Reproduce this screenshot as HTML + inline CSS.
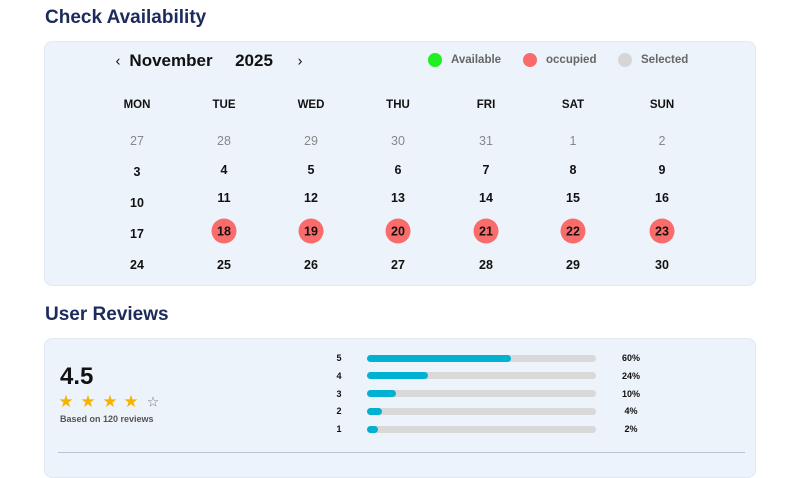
<!DOCTYPE html>
<html><head><meta charset="utf-8">
<style>
*{margin:0;padding:0;box-sizing:border-box}
body{width:800px;height:460px;overflow:hidden;background:#fff;font-family:"Liberation Sans",sans-serif;position:relative}
.abs{position:absolute}
.h{font-size:19px;font-weight:bold;color:#1c2b5c}
.card{position:absolute;background:#edf3fa;border:1px solid #e2e9f2;border-radius:8px}
.c{position:absolute;transform:translate(-50%,-50%);font-size:12.5px;font-weight:bold;color:#111;white-space:nowrap}
.g{color:#888;font-weight:normal}
.occ{width:25px;height:25px;border-radius:50%;background:#fa6b6b;display:flex;align-items:center;justify-content:center}
.dot{position:absolute;width:14px;height:14px;border-radius:50%;transform:translate(-50%,-50%)}
.lg{position:absolute;transform:translateY(-50%);font-size:11.5px;color:#666;font-weight:bold}
.star{position:absolute;font-size:17px;color:#f5b400;transform:translate(-50%,-50%)}
</style></head><body>
<div class="abs h" style="left:45px;top:7px">Check Availability</div>
<div class="card" style="left:44px;top:41px;width:712px;height:245px"></div>
<div class="c" style="left:118px;top:61px;font-weight:normal;font-size:15px">‹</div>
<div class="c" style="left:171px;top:61px;font-size:17px">November</div>
<div class="c" style="left:254px;top:61px;font-size:17px">2025</div>
<div class="c" style="left:300px;top:61px;font-weight:normal;font-size:15px">›</div>
<div class="dot" style="left:435px;top:60px;background:#1ff01f"></div>
<div class="lg" style="left:451px;top:60px">Available</div>
<div class="dot" style="left:530px;top:60px;background:#fa6b6b"></div>
<div class="lg" style="left:546px;top:60px">occupied</div>
<div class="dot" style="left:625px;top:60px;background:#d6d6d6"></div>
<div class="lg" style="left:641px;top:60px">Selected</div>
<div id="cal"></div>

<div class="abs h" style="left:45px;top:304px">User Reviews</div>
<div class="card" style="left:44px;top:338px;width:712px;height:140px"></div>
<div class="abs" style="left:60px;top:363px;font-size:24px;font-weight:bold;color:#111">4.5</div>
<div class="star" style="left:66px;top:402px">★</div>
<div class="star" style="left:88px;top:402px">★</div>
<div class="star" style="left:110px;top:402px">★</div>
<div class="star" style="left:131px;top:402px">★</div>
<div class="star" style="left:153px;top:402px;color:#777;font-size:14px">☆</div>
<div class="abs" style="left:60px;top:414px;font-size:9px;color:#555;font-weight:bold">Based on 120 reviews</div>
<div class="abs" style="left:58px;top:452px;width:687px;height:1px;background:#b8c4d0"></div>
<div id="bars"></div>
<script>
const days=["MON","TUE","WED","THU","FRI","SAT","SUN"];
const weeks=[[27,28,29,30,31,1,2],[3,4,5,6,7,8,9],[10,11,12,13,14,15,16],[17,18,19,20,21,22,23],[24,25,26,27,28,29,30]];
const occupied=[18,19,20,21,22,23];
const stars=[5,4,3,2,1];
const pcts=[60,24,10,4,2];
const colX=[137,224,311,398,486,573,662];
const rowY=[141,170,198,231,265];
const cal=document.getElementById('cal');
days.forEach((d,i)=>{const e=document.createElement('div');e.className='c';e.style.left=colX[i]+'px';e.style.top='105px';e.style.fontSize='11.5px';e.textContent=d;


cal.appendChild(e);});
weeks.forEach((w,r)=>w.forEach((n,i)=>{const e=document.createElement('div');e.className='c';
let y=rowY[r]; if(i===0&&r>0) y+= (r===1?2:r===2?5:r===3?3:0);
e.style.left=colX[i]+'px';e.style.top=y+'px';
const other=(r===0);
if(other)e.classList.add('g');
if(!other&&occupied.includes(n)){const s=document.createElement('div');s.className='occ';s.textContent=n;e.appendChild(s);}else e.textContent=n;


cal.appendChild(e);}));
const bars=document.getElementById('bars');
const x0=367,tw=229,scale=v=>v*2.3+6;
stars.forEach((s,i)=>{const y=358+i*17.8;
const l=document.createElement('div');l.className='c';l.style.left='339px';l.style.top=y+'px';l.style.fontSize='9px';l.textContent=s;


bars.appendChild(l);
const t=document.createElement('div');t.className='abs';t.style.cssText=`left:${x0}px;top:${y-3.5}px;width:${tw}px;height:7px;border-radius:4px;background:#d9d9d9`;


bars.appendChild(t);
const f=document.createElement('div');f.className='abs';f.style.cssText=`left:${x0}px;top:${y-3.5}px;width:${scale(pcts[i])}px;height:7px;border-radius:4px;background:#00b1d2`;


bars.appendChild(f);
const p=document.createElement('div');p.className='c';p.style.left='631px';p.style.top=y+'px';p.style.fontSize='9px';p.textContent=pcts[i]+'%';


bars.appendChild(p);});
</script>
</body></html>
